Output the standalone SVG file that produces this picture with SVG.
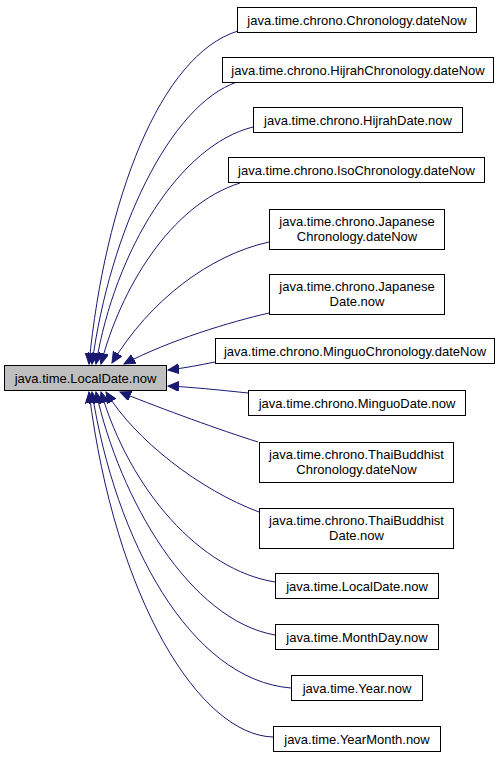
<svg xmlns="http://www.w3.org/2000/svg" width="503" height="757" viewBox="0 0 503 757">
<style>
.n rect{fill:#fff;stroke:#000;stroke-width:1}
.m rect{fill:#bfbfbf;stroke:#000;stroke-width:1}
text{font-family:"Liberation Sans",Arial,sans-serif;font-size:13px;fill:#000;text-anchor:middle}
.e path{fill:none;stroke:#191970;stroke-width:1}
</style>
<defs>
<marker id="a" markerUnits="userSpaceOnUse" markerWidth="13" markerHeight="11" refX="11" refY="5" orient="auto">
<path d="M0,0 L11,5 L0,10 z" fill="#191970" stroke="#191970" stroke-width="1"/>
</marker>
</defs>
<g class="e" id="edges">
<path marker-end="url(#a)" d="M238,31 C160,55 105,200 89,364"/>
<path marker-end="url(#a)" d="M237,82 C170,105 110,230 92,364"/>
<path marker-end="url(#a)" d="M253,127 C180,145 115,250 96,364"/>
<path marker-end="url(#a)" d="M240,183 C170,205 120,290 101,364"/>
<path marker-end="url(#a)" d="M269,242 C210,255 150,300 112,363"/>
<path marker-end="url(#a)" d="M269,313 C230,322 170,340 124,364"/>
<path marker-end="url(#a)" d="M215,362 C200,365 185,368 168,370"/>
<path marker-end="url(#a)" d="M248,393 C220,390 190,387 168,386"/>
<path marker-end="url(#a)" d="M258,442 C220,430 165,410 120,392"/>
<path marker-end="url(#a)" d="M259,512 C200,490 135,440 106,392"/>
<path marker-end="url(#a)" d="M275,582 C200,570 130,490 101,392"/>
<path marker-end="url(#a)" d="M275,635 C190,620 120,500 96,392"/>
<path marker-end="url(#a)" d="M291,688 C190,680 115,540 92,392"/>
<path marker-end="url(#a)" d="M273,737 C200,735 115,600 89,392"/>
</g>
<g class="m" id="main"><rect x="4.5" y="365.5" width="162" height="25"/><text x="85.5" y="382.5">java.time.LocalDate.now</text></g>
<g class="n" id="n1"><rect x="237.5" y="7.5" width="239" height="25"/><text x="357" y="24.5">java.time.chrono.Chronology.dateNow</text></g>
<g class="n" id="n2"><rect x="222.5" y="57.5" width="271" height="25"/><text x="358" y="74.5">java.time.chrono.HijrahChronology.dateNow</text></g>
<g class="n" id="n3"><rect x="253.5" y="107.5" width="209" height="25"/><text x="358" y="124.5">java.time.chrono.HijrahDate.now</text></g>
<g class="n" id="n4"><rect x="228.5" y="157.5" width="256" height="25"/><text x="356.5" y="174.5">java.time.chrono.IsoChronology.dateNow</text></g>
<g class="n" id="n5"><rect x="269.5" y="209.5" width="175" height="40"/><text x="357" y="225.5">java.time.chrono.Japanese</text><text x="357" y="240.5">Chronology.dateNow</text></g>
<g class="n" id="n6"><rect x="269.5" y="274.5" width="175" height="40"/><text x="357" y="290.5">java.time.chrono.Japanese</text><text x="357" y="305.5">Date.now</text></g>
<g class="n" id="n7"><rect x="215.5" y="338.5" width="279" height="25"/><text x="355" y="355.5">java.time.chrono.MinguoChronology.dateNow</text></g>
<g class="n" id="n8"><rect x="248.5" y="390.5" width="217" height="25"/><text x="357" y="407.5">java.time.chrono.MinguoDate.now</text></g>
<g class="n" id="n9"><rect x="259.5" y="442.5" width="194" height="40"/><text x="356.5" y="458.5">java.time.chrono.ThaiBuddhist</text><text x="356.5" y="473.5">Chronology.dateNow</text></g>
<g class="n" id="n10"><rect x="259.5" y="508.5" width="194" height="40"/><text x="356.5" y="524.5">java.time.chrono.ThaiBuddhist</text><text x="356.5" y="539.5">Date.now</text></g>
<g class="n" id="n11"><rect x="275.5" y="573.5" width="163" height="25"/><text x="357" y="590.5">java.time.LocalDate.now</text></g>
<g class="n" id="n12"><rect x="275.5" y="624.5" width="163" height="25"/><text x="357" y="641.5">java.time.MonthDay.now</text></g>
<g class="n" id="n13"><rect x="291.5" y="675.5" width="131" height="25"/><text x="357" y="692.5">java.time.Year.now</text></g>
<g class="n" id="n14"><rect x="273.5" y="726.5" width="167" height="25"/><text x="357" y="743.5">java.time.YearMonth.now</text></g>
</svg>
